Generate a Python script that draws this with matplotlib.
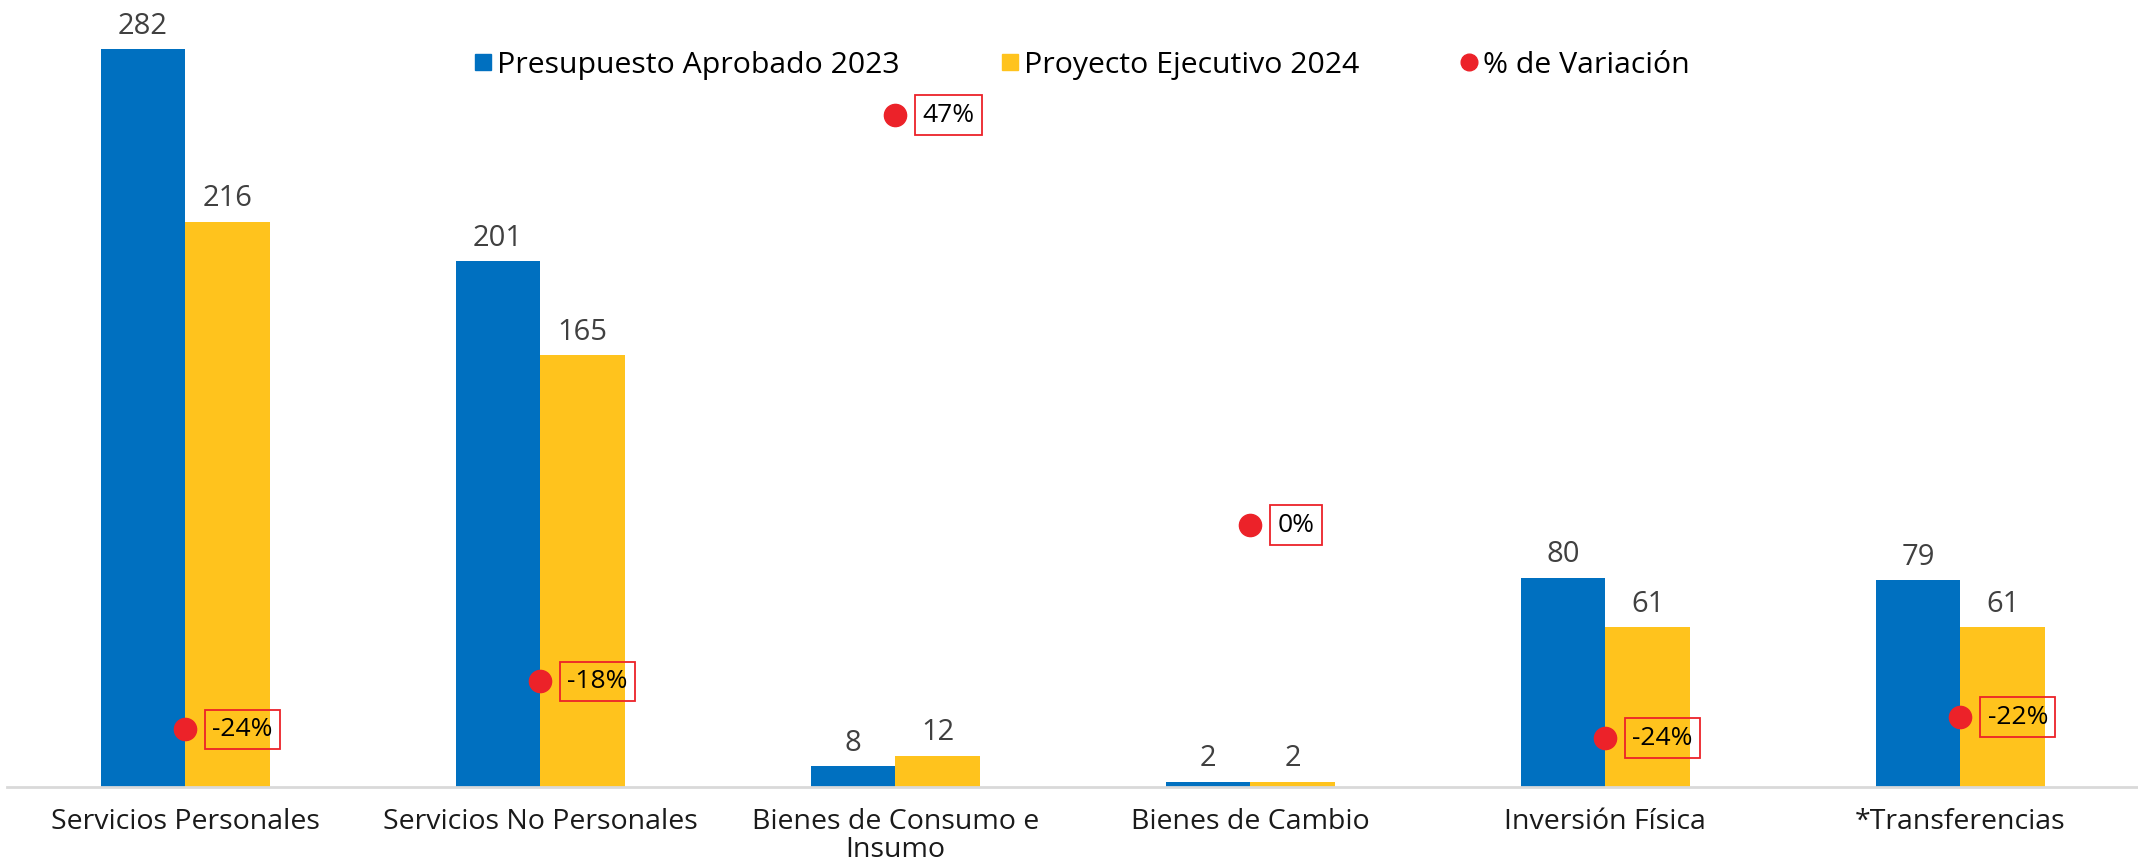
import numpy as np
import matplotlib.pyplot as plt
from matplotlib.lines import Line2D

plt.rcParams['font.family'] = ['Open Sans', 'DejaVu Sans']

# data
categorias = ["Servicios Personales", "Servicios No Personales", "Bienes de Consumo e\nInsumo",
              "Bienes de Cambio", "Inversión Física", "*Transferencias"]
aprobado_2023 = [282, 201, 8, 2, 80, 79]
ejecutivo_2024 = [216, 165, 12, 2, 61, 61]
variacion = [-0.234, -0.179, 0.47, 0.0, -0.244, -0.22]
etiquetas_var = ["-24%", "-18%", "47%", "0%", "-24%", "-22%"]

azul = "#0070C0"
amarillo = "#FFC31D"
rojo = "#EC2229"

fig = plt.figure(figsize=(21.38, 8.65), dpi=100)
ax = fig.add_axes([0.0035, 0.0902, 0.9965, 0.9075])
x = np.arange(len(categorias))
w = 0.238

ax.bar(x - w / 2, aprobado_2023, width=w, color=azul)
ax.bar(x + w / 2, ejecutivo_2024, width=w, color=amarillo)
for xi, v in zip(x, aprobado_2023):
    ax.annotate(str(v), (xi - w / 2, v), xytext=(0, 6), textcoords="offset points",
                ha="center", va="bottom", fontsize=21, color="#404040")
for xi, v in zip(x, ejecutivo_2024):
    ax.annotate(str(v), (xi + w / 2, v), xytext=(0, 6), textcoords="offset points",
                ha="center", va="bottom", fontsize=21, color="#404040")

ax.set_xlim(-0.5, len(categorias) - 0.5)
ax.set_ylim(0, 300)
ax.set_yticks([])
ax.set_xticks(x)
ax.set_xticklabels(categorias, fontsize=20.5, color="#1a1a1a", linespacing=1.0)
ax.tick_params(axis="x", length=0, pad=15)
for s in ["top", "right", "left"]:
    ax.spines[s].set_visible(False)
ax.spines["bottom"].set_color("#D9D9D9")
ax.spines["bottom"].set_linewidth(2)

ax2 = ax.twinx()
ax2.set_ylim(-0.30, 0.60)
ax2.plot(x, variacion, "o", color=rojo, markersize=16, linestyle="none")
for xi, v, t in zip(x, variacion, etiquetas_var):
    ax2.annotate(t, (xi, v), xytext=(19.5, 0), textcoords="offset points",
                 ha="left", va="center", fontsize=19, color="black",
                 bbox=dict(boxstyle="square,pad=0.28", facecolor="none", edgecolor=rojo, linewidth=1.3))
ax2.axis("off")

handles = [
    Line2D([], [], marker="s", color=azul, linestyle="none", markersize=11),
    Line2D([], [], marker="s", color=amarillo, linestyle="none", markersize=11),
    Line2D([], [], marker="o", color=rojo, linestyle="none", markersize=12),
]
fig.legend(handles, ["Presupuesto Aprobado 2023", "Proyecto Ejecutivo 2024", "% de Variación"],
           loc="center", bbox_to_anchor=(0.505, 0.9245), ncol=3, frameon=False,
           fontsize=21.8, handletextpad=0.0, columnspacing=3.2, handlelength=0.9)

fig.savefig("out.png", dpi=100)
